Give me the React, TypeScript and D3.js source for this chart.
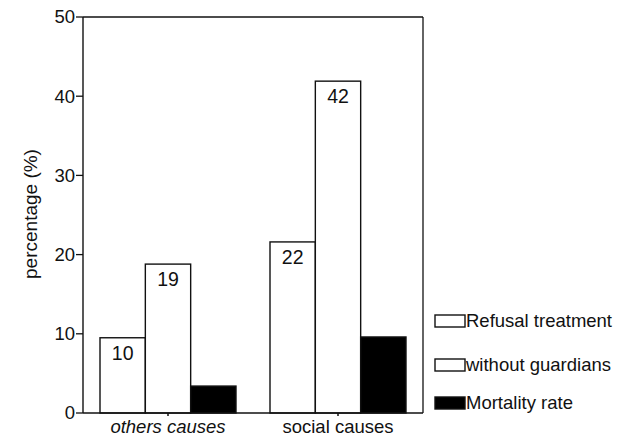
import React from "react";
import * as d3 from "d3";

const categories = ["others causes", "social causes"];
const categoryItalic = [true, false];
const seriesNames = ["Refusal treatment", "without guardians", "Mortality rate"];
const refusalValues = [9.5, 21.6];
const guardiansValues = [18.8, 41.9];
const mortalityValues = [3.4, 9.6];
const refusalLabels = ["10", "22"];
const guardiansLabels = ["19", "42"];
const mortalityLabels = ["", ""];
const yTicks = [0, 10, 20, 30, 40, 50];

const seriesValues = [refusalValues, guardiansValues, mortalityValues];
const seriesLabels = [refusalLabels, guardiansLabels, mortalityLabels];
const seriesFill = ["#ffffff", "#ffffff", "#000000"];

const W = 632;
const H = 440;
const left = 83;
const right = 423;
const top = 17;
const bottom = 413;
const FONT = "'Liberation Sans', Arial, Helvetica, sans-serif";
const INK = "#111";

export default function App() {
  const x0 = d3.scaleBand<string>().domain(categories).range([left, right]).paddingInner(0.2).paddingOuter(0.1);
  const x1 = d3.scaleBand<string>().domain(seriesNames).range([0, x0.bandwidth()]).padding(0);
  const y = d3.scaleLinear().domain([0, 50]).range([bottom, top]);

  const legendY = [321, 365, 403];

  return (
    <svg width={W} height={H} style={{ position: "absolute", left: 0, top: 0, background: "#fff" }}>
      <rect x={0} y={0} width={W} height={H} fill="#fff" />
      {/* frame */}
      <line x1={left} x2={right} y1={top} y2={top} stroke={INK} strokeWidth={1.3} />
      <line x1={right} x2={right} y1={top} y2={bottom} stroke={INK} strokeWidth={1.3} />
      {/* bars */}
      {categories.map((c, ci) => (
        <g key={c}>
          {seriesNames.map((s, si) => {
            const v = seriesValues[si][ci];
            const bx = (x0(c) as number) + (x1(s) as number);
            const bw = x1.bandwidth();
            return (
              <g key={s}>
                <rect x={bx} y={y(v)} width={bw} height={y(0) - y(v)} fill={seriesFill[si]} stroke={INK} strokeWidth={1.4} />
                {seriesLabels[si][ci] && (
                  <text x={bx + bw / 2} y={y(v) + 22} textAnchor="middle" fontFamily={FONT} fontSize={19.5} fill={INK}>
                    {seriesLabels[si][ci]}
                  </text>
                )}
              </g>
            );
          })}
        </g>
      ))}
      {/* y axis */}
      <line x1={left} x2={left} y1={top} y2={bottom} stroke={INK} strokeWidth={1.4} />
      {yTicks.map((t) => (
        <g key={t}>
          <line x1={left - 7} x2={left} y1={y(t)} y2={y(t)} stroke={INK} strokeWidth={1.3} />
          <text x={left - 8} y={y(t)} dy="0.35em" textAnchor="end" fontFamily={FONT} fontSize={18.5} fill={INK}>
            {t}
          </text>
        </g>
      ))}
      {/* x axis */}
      <line x1={left} x2={right} y1={bottom} y2={bottom} stroke={INK} strokeWidth={1.4} />
      {categories.map((c, ci) => {
        const cx = (x0(c) as number) + x0.bandwidth() / 2;
        return (
          <g key={c}>
            <line x1={cx} x2={cx} y1={bottom} y2={bottom + 3} stroke={INK} strokeWidth={1.5} />
            <text x={cx} y={433} textAnchor="middle" fontFamily={FONT} fontSize={18.5} fontStyle={categoryItalic[ci] ? "italic" : "normal"} fill={INK}>
              {c}
            </text>
          </g>
        );
      })}
      {/* y title */}
      <text transform={`translate(37,214) rotate(-90)`} textAnchor="middle" fontFamily={FONT} fontSize={19} fill={INK}>
        percentage (%)
      </text>
      {/* legend */}
      {seriesNames.map((s, si) => (
        <g key={s}>
          <rect x={435} y={legendY[si] - 6} width={30} height={12} fill={seriesFill[si]} stroke={INK} strokeWidth={1.4} />
          <text x={466} y={legendY[si] + 6} fontFamily={FONT} fontSize={18.5} fill={INK}>
            {s}
          </text>
        </g>
      ))}
    </svg>
  );
}
